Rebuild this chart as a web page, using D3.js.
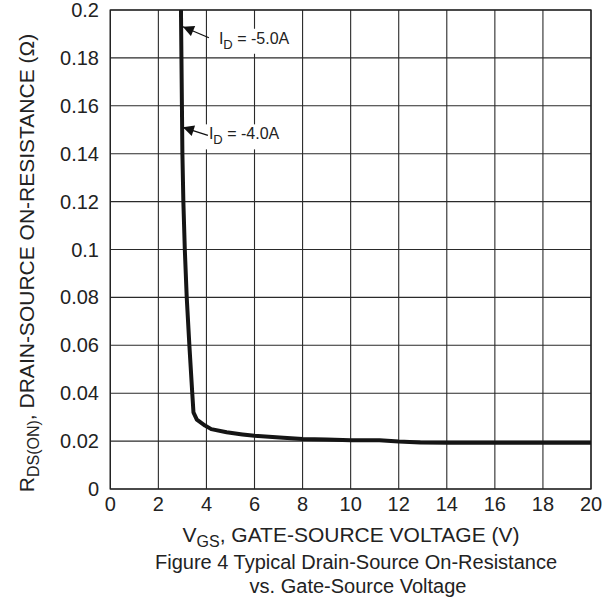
<!DOCTYPE html>
<html>
<head>
<meta charset="utf-8">
<script src="https://cdn.jsdelivr.net/npm/d3@7"></script>
<style>
  body { margin: 0; background: #fff; }
  text { font-family: "Liberation Sans", Arial, sans-serif; fill: #222; }
</style>
</head>
<body>
<div id="chart"></div>
<script>
// gate-source voltage (V) vs on-resistance (ohm)
var vgs = [2.94, 2.96, 2.98, 3.0, 3.04, 3.10, 3.18, 3.29, 3.41, 3.46, 3.6, 3.94, 4.2, 4.84, 5.5, 6.0, 7.2, 8.0, 9.0, 10.0, 11.2, 12.0, 12.9, 14, 16, 18, 20];
var rdson = [0.2, 0.18, 0.16, 0.14, 0.12, 0.1, 0.08, 0.06, 0.04, 0.032, 0.029, 0.0265, 0.025, 0.0237, 0.0228, 0.0222, 0.0214, 0.0209, 0.0207, 0.0204, 0.0204, 0.0198, 0.0194, 0.0193, 0.0193, 0.0193, 0.0193];

var xTicks = [0, 2, 4, 6, 8, 10, 12, 14, 16, 18, 20];
var yTicks = [0, 0.02, 0.04, 0.06, 0.08, 0.1, 0.12, 0.14, 0.16, 0.18, 0.2];
var yTickLabels = ["0", "0.02", "0.04", "0.06", "0.08", "0.1", "0.12", "0.14", "0.16", "0.18", "0.2"];

// annotations: current label, point on curve it points to
var annoLabels = ["-5.0A", "-4.0A"];
var annoV = [3.0, 3.0];
var annoR = [0.193, 0.151];

var W = 604, H = 598;
var pLeft = 110.3, pRight = 591, pTop = 10, pBottom = 489;

var svg = d3.select("#chart")
  .append("svg")
  .attr("width", W)
  .attr("height", H);

var x = d3.scaleLinear().domain([0, 20]).range([pLeft, pRight]);
var y = d3.scaleLinear().domain([0, 0.2]).range([pBottom, pTop]);

// grid
svg.append("g")
  .selectAll("line")
  .data(xTicks)
  .join("line")
  .attr("x1", d => x(d)).attr("x2", d => x(d))
  .attr("y1", pTop).attr("y2", pBottom)
  .attr("stroke", "#2a2a2a").attr("stroke-width", 1.1);

svg.append("g")
  .selectAll("line")
  .data(yTicks)
  .join("line")
  .attr("x1", pLeft).attr("x2", pRight)
  .attr("y1", d => y(d)).attr("y2", d => y(d))
  .attr("stroke", "#2a2a2a").attr("stroke-width", 1.1);

// frame
svg.append("rect")
  .attr("x", pLeft).attr("y", pTop)
  .attr("width", pRight - pLeft).attr("height", pBottom - pTop)
  .attr("fill", "none").attr("stroke", "#222").attr("stroke-width", 1.3);

// tick labels
svg.append("g")
  .selectAll("text")
  .data(xTicks)
  .join("text")
  .attr("x", d => x(d))
  .attr("y", 511)
  .attr("text-anchor", "middle")
  .style("font-size", "20px")
  .text(d => d);

svg.append("g")
  .selectAll("text")
  .data(yTicks)
  .join("text")
  .attr("x", 99)
  .attr("y", d => y(d) + 7)
  .attr("text-anchor", "end")
  .style("font-size", "20px")
  .text((d, i) => yTickLabels[i]);

// curve
svg.append("clipPath").attr("id", "clip")
  .append("rect").attr("x", pLeft).attr("y", pTop - 4)
  .attr("width", pRight - pLeft).attr("height", pBottom - pTop + 4);

svg.append("path")
  .datum(d3.zip(vgs, rdson))
  .attr("clip-path", "url(#clip)")
  .attr("d", d3.line().x(d => x(d[0])).y(d => y(d[1])))
  .attr("fill", "none")
  .attr("stroke", "#151515")
  .attr("stroke-width", 4)
  .attr("stroke-linejoin", "round");

// annotations
svg.append("defs").append("marker")
  .attr("id", "arrow")
  .attr("viewBox", "0 0 10 10")
  .attr("refX", 10).attr("refY", 5)
  .attr("markerWidth", 13).attr("markerHeight", 11)
  .attr("markerUnits", "userSpaceOnUse")
  .attr("orient", "auto")
  .append("path")
  .attr("d", "M0,0 L10,5 L0,10 Z")
  .attr("fill", "#111");

var annoOffsets = [[26, 11, 36, 17], [25, 8, 26, 12]]; // tail dx, dy, text dx, baseline dy

annoLabels.forEach(function (lab, i) {
  var px = x(annoV[i]) + 0.5, py = y(annoR[i]);
  var o = annoOffsets[i];
  var tx = px + o[2], ty = py + o[3];
  var g = svg.append("g");
  var t = g.append("text")
    .attr("x", tx).attr("y", ty)
    .style("font-size", "16px");
  t.append("tspan").text("I");
  t.append("tspan").attr("dy", 5).style("font-size", "13px").text("D");
  t.append("tspan").attr("dy", -5).text(" = " + lab);
  var bb = t.node().getBBox();
  g.insert("rect", "text")
    .attr("x", bb.x - 4).attr("y", bb.y - 1)
    .attr("width", bb.width + 8).attr("height", bb.height + 3)
    .attr("fill", "#fff");
  g.append("line")
    .attr("x1", px + o[0]).attr("y1", py + o[1])
    .attr("x2", px).attr("y2", py)
    .attr("stroke", "#111").attr("stroke-width", 1.3)
    .attr("marker-end", "url(#arrow)");
});

// axis titles
var xt = svg.append("text")
  .attr("x", 351).attr("y", 541.7)
  .attr("text-anchor", "middle")
  .style("font-size", "21px");
xt.append("tspan").text("V");
xt.append("tspan").attr("dy", 5).style("font-size", "16px").text("GS");
xt.append("tspan").attr("dy", -5).text(", GATE-SOURCE VOLTAGE (V)");

var yt = svg.append("text")
  .attr("transform", "translate(34,263) rotate(-90)")
  .attr("text-anchor", "middle")
  .style("font-size", "21px");
yt.append("tspan").text("R");
yt.append("tspan").attr("dy", 5).style("font-size", "16px").text("DS(ON)");
yt.append("tspan").attr("dy", -5).text(", DRAIN-SOURCE ON-RESISTANCE (\u03A9)");

// caption
svg.append("text")
  .attr("x", 356).attr("y", 569)
  .attr("text-anchor", "middle")
  .style("font-size", "20px")
  .text("Figure 4 Typical Drain-Source On-Resistance");
svg.append("text")
  .attr("x", 358).attr("y", 593)
  .attr("text-anchor", "middle")
  .style("font-size", "20px")
  .text("vs. Gate-Source Voltage");
</script>
</body>
</html>
